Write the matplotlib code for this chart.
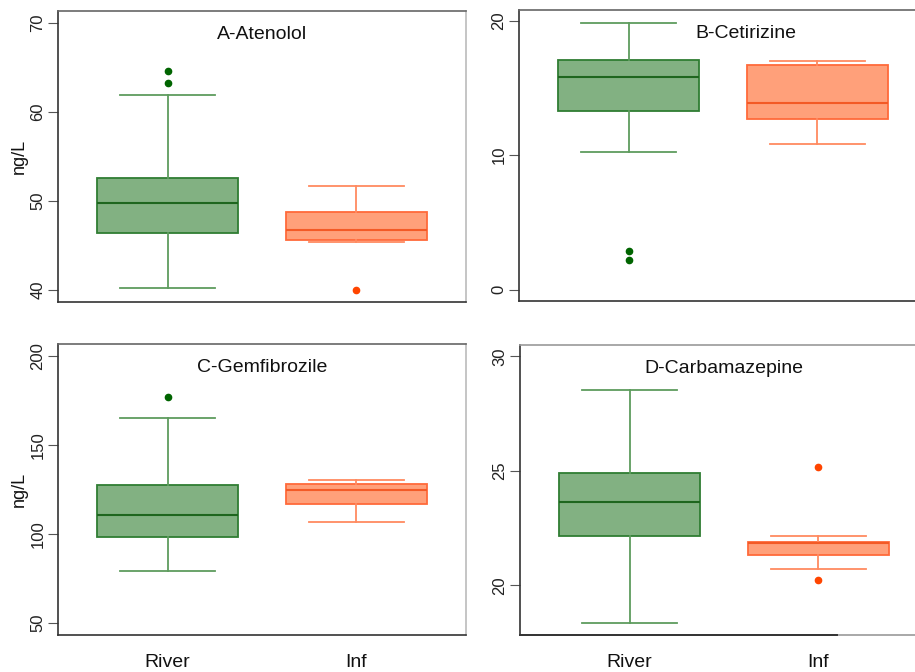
import matplotlib

matplotlib.use("Agg")
import matplotlib.pyplot as plt

plt.rcParams["font.family"] = ["Liberation Sans", "DejaVu Sans"]

# groups on the x axis
groups = ["River", "Inf"]

# panel titles
titles = ["A-Atenolol", "B-Cetirizine", "C-Gemfibrozile", "D-Carbamazepine"]

# box stats per panel, order: River, Inf  -> (whislo, q1, med, q3, whishi)
atenolol_stats = [(40.2, 46.4, 49.8, 52.6, 61.9), (45.4, 45.6, 46.7, 48.8, 51.7)]
atenolol_fliers = [[63.3, 64.6], [40.0]]
cetirizine_stats = [(10.2, 13.3, 15.8, 17.1, 19.8), (10.85, 12.7, 13.9, 16.7, 17.0)]
cetirizine_fliers = [[2.2, 2.9], []]
gemfibrozile_stats = [(79.5, 98.4, 110.8, 127.8, 165.2), (107.0, 117.1, 124.8, 128.0, 130.2)]
gemfibrozile_fliers = [[177.2], []]
carbamazepine_stats = [(18.34, 22.14, 23.63, 24.91, 28.54), (20.71, 21.34, 21.85, 21.88, 22.16)]
carbamazepine_fliers = [[], [20.24, 25.16]]

# y ticks and limits
yticks = [[40, 50, 60, 70], [0, 10, 20], [50, 100, 150, 200], [20, 25, 30]]
ylims = [(38.65, 71.35), (-0.85, 20.8), (43.4, 206.7), (17.83, 30.5)]

GREEN = dict(fill="#82b182", edge="#2f7d33", med="#1e661e", whisk="#5e9c5e", pt="#006400")
ORANGE = dict(fill="#ffa07a", edge="#ff6a3a", med="#f35a26", whisk="#ff8a60", pt="#ff4500")


def draw_panel(ax, stats, fliers, title, tx):
    cols = [GREEN, ORANGE]
    for i, (s, fl) in enumerate(zip(stats, fliers)):
        c = cols[i]
        d = dict(whislo=s[0], q1=s[1], med=s[2], q3=s[3], whishi=s[4], fliers=fl)
        ax.bxp([d], positions=[i + 1], widths=0.75, patch_artist=True,
               boxprops=dict(facecolor=c["fill"], edgecolor=c["edge"], lw=1.3),
               medianprops=dict(color=c["med"], lw=1.5),
               whiskerprops=dict(color=c["whisk"], lw=1.3),
               capprops=dict(color=c["whisk"], lw=1.3),
               capwidths=0.5,
               flierprops=dict(marker="o", markersize=4.5, markerfacecolor=c["pt"],
                               markeredgecolor=c["pt"], linestyle="none"),
               manage_ticks=False)
    ax.set_xlim(0.42, 2.58)
    ax.text(tx, 0.92, title, transform=ax.get_xaxis_transform(), ha="center",
            va="center", fontsize=14, color="#111111")
    ax.spines["left"].set_color("#333333")
    ax.spines["bottom"].set_color("#333333")
    ax.spines["top"].set_color("#666666")
    ax.spines["right"].set_color("#bbbbbb")
    for sp in ax.spines.values():
        sp.set_linewidth(1.2)
    ax.tick_params(axis="y", length=7, width=0.8, color="#555555", pad=2,
                   labelsize=12, labelcolor="#222222")


fig = plt.figure(figsize=(9.15, 6.72), dpi=100)
W, H = 915, 672


def px_axes(left, top, right, bottom):
    return fig.add_axes([left / W, 1 - bottom / H, (right - left) / W, (bottom - top) / H])


axA = px_axes(58, 11, 466, 302)
axB = px_axes(519, 10, 927, 301)
axC = px_axes(58, 344, 466, 635)
axD = px_axes(520, 345, 928, 635)
axes = [axA, axB, axC, axD]

all_stats = [atenolol_stats, cetirizine_stats, gemfibrozile_stats, carbamazepine_stats]
all_fliers = [atenolol_fliers, cetirizine_fliers, gemfibrozile_fliers, carbamazepine_fliers]
title_x = [1.5, 1.62, 1.5, 1.5]

for k, ax in enumerate(axes):
    draw_panel(ax, all_stats[k], all_fliers[k], titles[k], title_x[k])
    ax.set_ylim(*ylims[k])
    ax.set_yticks(yticks[k])
    for lab in ax.get_yticklabels():
        lab.set_rotation(90)
        lab.set_va("center")

for ax in [axA, axB]:
    ax.set_xticks([])

for ax in [axC, axD]:
    ax.set_xticks([1, 2])
    ax.set_xticklabels(groups, fontsize=14, color="#111111")
    ax.tick_params(axis="x", length=0, pad=14)

for ax in [axA, axC]:
    ax.set_ylabel("ng/L", fontsize=13, color="#111111")
    ax.yaxis.set_label_coords(-0.074, 0.5)

# bottom frame of D is only partly dark in the original
axD.spines["bottom"].set_color("#999999")
axD.plot([0, 0.777], [0, 0], transform=axD.transAxes, color="#333333", lw=1.4,
         clip_on=False, zorder=5)
axD.spines["top"].set_color("#999999")

fig.savefig("out.png", dpi=100)
